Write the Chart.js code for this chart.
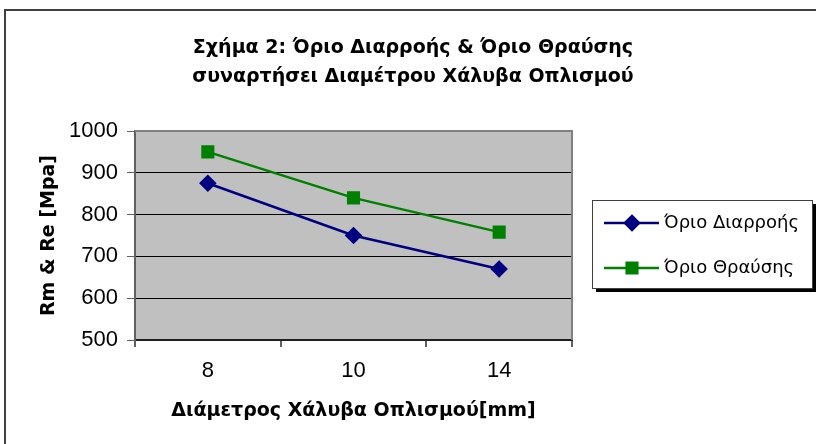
<!DOCTYPE html>
<html>
<head>
<meta charset="utf-8">
<script src="https://cdn.jsdelivr.net/npm/chart.js@4.4.1/dist/chart.umd.min.js"></script>
<style>
  html, body { margin: 0; padding: 0; background: #fff; }
</style>
</head>
<body>
<canvas id="chart" width="816" height="444"></canvas>
<script>
// δεδομένα γραφήματος
const diameters = ['8', '10', '14'];
const yieldStrength = [875, 750, 670];     // Όριο Διαρροής
const tensileStrength = [950, 840, 758];   // Όριο Θραύσης
const seriesNames = ['Όριο Διαρροής', 'Όριο Θραύσης'];
const titleLines = ['Σχήμα 2: Όριο Διαρροής & Όριο Θραύσης', 'συναρτήσει Διαμέτρου Χάλυβα Οπλισμού'];
const yTicks = [500, 600, 700, 800, 900, 1000];

const BLUE = '#000080';
const GREEN = '#008000';

// πλαίσιο, τίτλος και υπόμνημα σε στυλ Excel
const excelFrame = {
  id: 'excelFrame',
  beforeDraw(chart) {
    const { ctx, chartArea: a } = chart;
    ctx.save();
    ctx.fillStyle = '#fff';
    ctx.fillRect(0, 0, chart.width, chart.height);
    ctx.strokeStyle = '#404040';
    ctx.lineWidth = 2;
    ctx.strokeRect(5, 10, chart.width + 10, chart.height + 10);
    ctx.fillStyle = '#c0c0c0';
    ctx.fillRect(a.left, a.top, a.right - a.left, a.bottom - a.top);
    ctx.restore();
  },
  afterDraw(chart) {
    const { ctx, chartArea: a } = chart;
    ctx.save();
    // πάνω και δεξιά πλευρά της περιοχής σχεδίασης
    ctx.strokeStyle = '#808080';
    ctx.lineWidth = 2;
    ctx.beginPath();
    ctx.moveTo(a.left, a.top);
    ctx.lineTo(a.right, a.top);
    ctx.lineTo(a.right, a.bottom);
    ctx.stroke();

    // τίτλος
    ctx.fillStyle = '#000';
    ctx.font = 'bold 19px "DejaVu Sans"';
    ctx.textAlign = 'center';
    ctx.textBaseline = 'middle';
    titleLines.forEach((t, i) => ctx.fillText(t, 413, 48 + i * 29));

    // υπόμνημα
    const lx = 592, ly = 200, lw = 220, lh = 88;
    ctx.fillStyle = '#000';
    ctx.fillRect(lx + 4, ly + 4, lw, lh);
    ctx.fillStyle = '#fff';
    ctx.fillRect(lx, ly, lw, lh);
    ctx.strokeStyle = '#404040';
    ctx.lineWidth = 1;
    ctx.strokeRect(lx + 0.5, ly + 0.5, lw, lh);

    chart.data.datasets.forEach((ds, i) => {
      const y = 223 + i * 45;
      ctx.strokeStyle = ds.borderColor;
      ctx.lineWidth = 2.5;
      ctx.beginPath();
      ctx.moveTo(604, y);
      ctx.lineTo(659, y);
      ctx.stroke();
      ctx.fillStyle = ds.pointBackgroundColor;
      ctx.strokeStyle = ds.pointBorderColor;
      Chart.helpers.drawPoint(ctx, {
        pointStyle: ds.pointStyle,
        radius: ds.pointRadius,
        rotation: 0,
        borderWidth: 1
      }, 632, y);
      ctx.fillStyle = '#000';
      ctx.font = '18px "DejaVu Sans"';
      ctx.textAlign = 'left';
      ctx.fillText(ds.label, 664, y);
    });
    ctx.restore();
  }
};

new Chart(document.getElementById('chart'), {
  type: 'line',
  data: {
    labels: diameters,
    datasets: [
      {
        label: seriesNames[0],
        data: yieldStrength,
        borderColor: BLUE,
        backgroundColor: BLUE,
        pointBackgroundColor: BLUE,
        pointBorderColor: BLUE,
        pointStyle: 'rectRot',
        pointRadius: 7,
        borderWidth: 2.5,
        tension: 0
      },
      {
        label: seriesNames[1],
        data: tensileStrength,
        borderColor: GREEN,
        backgroundColor: GREEN,
        pointBackgroundColor: GREEN,
        pointBorderColor: GREEN,
        pointStyle: 'rect',
        pointRadius: 7.5,
        borderWidth: 2.5,
        tension: 0
      }
    ]
  },
  options: {
    responsive: false,
    animation: false,
    layout: { padding: { top: 131, right: 244, left: 38, bottom: 22 } },
    plugins: {
      legend: { display: false },
      title: { display: false },
      tooltip: { enabled: false }
    },
    scales: {
      x: {
        offset: true,
        afterFit: s => { s.height = 444 - 22 - 340; },
        grid: {
          offset: true,
          drawOnChartArea: false,
          drawTicks: true,
          tickLength: 7,
          color: '#606060',
          lineWidth: 2
        },
        border: { display: true, color: '#202020', width: 2 },
        ticks: {
          color: '#000',
          font: { family: '"Liberation Sans", Arial', size: 22 },
          padding: 11
        },
        title: {
          display: true,
          text: 'Διάμετρος Χάλυβα Οπλισμού[mm]',
          color: '#000',
          font: { family: '"DejaVu Sans"', size: 19, weight: 'bold' },
          padding: { top: 0, bottom: 0 }
        }
      },
      y: {
        min: 500,
        max: 1000,
        afterFit: s => { s.width = 135 - 38; },
        afterBuildTicks: s => { s.ticks = yTicks.map(v => ({ value: v })); },
        grid: {
          color: ctx => (ctx.tick && ctx.tick.value === 1000) ? 'rgba(0,0,0,0)' : '#000',
          lineWidth: 1,
          drawTicks: true,
          tickLength: 8,
          tickColor: '#606060'
        },
        border: { display: true, color: '#606060', width: 2 },
        ticks: {
          color: '#000',
          font: { family: '"Liberation Sans", Arial', size: 22 },
          padding: 9,
          callback: v => String(v)
        },
        title: {
          display: true,
          text: 'Rm & Re [Mpa]',
          color: '#000',
          font: { family: '"DejaVu Sans"', size: 19, weight: 'bold' },
          padding: { top: 0, bottom: 0 }
        }
      }
    }
  },
  plugins: [excelFrame]
});
</script>
</body>
</html>
